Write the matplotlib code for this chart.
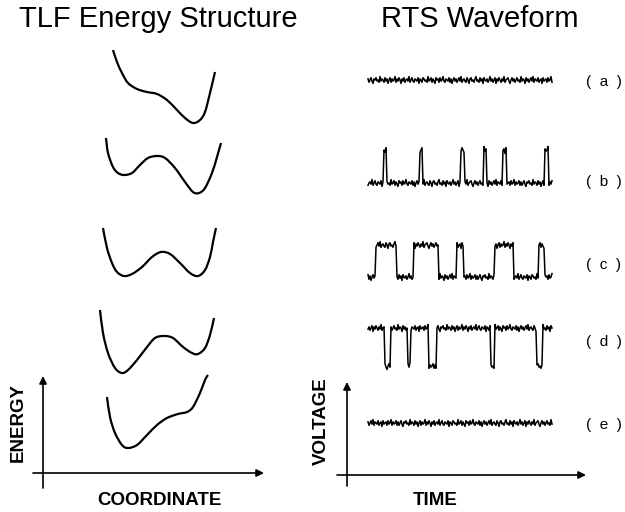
import matplotlib
matplotlib.use('Agg')
import matplotlib.pyplot as plt
from matplotlib.path import Path
from matplotlib.patches import PathPatch
import numpy as np

plt.rcParams['font.family'] = ['Liberation Sans', 'DejaVu Sans']

# ---------------- data ----------------
# TLF energy curves (coordinate, energy) for states a..e
coord_a = [18, 22, 27, 33, 42, 52, 62, 72, 82, 90, 98, 105, 110, 115, 120]
energy_a = [75, 63, 52, 42, 36, 33, 31, 25, 15, 7, 2, 5, 13, 32, 53]
coord_b = [11, 13, 18, 23, 29, 37, 45, 53, 62, 70, 80, 90, 98, 104, 110, 117, 122, 126]
energy_b = [57, 42, 28, 22, 20, 22, 30, 37, 39, 37, 27, 13, 3, 2, 7, 22, 38, 52]
coord_c = [8, 12, 17, 22, 29, 37, 47, 57, 66, 75, 85, 95, 103, 110, 115, 118, 121]
energy_c = [50, 30, 15, 6, 2, 4, 11, 21, 26, 24, 15, 5, 2, 8, 21, 36, 50]
coord_d = [5, 8, 13, 20, 27, 33, 42, 52, 60, 69, 78, 88, 97, 103, 110, 115, 119]
energy_d = [66, 43, 23, 8, 3, 6, 16, 29, 38, 40, 38, 29, 23, 22, 28, 41, 58]
coord_e = [12, 15, 20, 27, 33, 42, 52, 62, 72, 83, 92, 98, 105, 110, 113]
energy_e = [53, 33, 17, 5, 2, 5, 15, 25, 32, 36, 38, 43, 57, 70, 75]

# RTS waveforms: base level, switched level, switching intervals (time units)
rts_labels = ['( a )', '( b )', '( c )', '( d )', '( e )']
base_levels = [30, 17, 13, 52, 27]
alt_levels = [30, 50, 45, 14, 27]
intervals_a = []
intervals_b = [(16, 19), (52, 55), (93, 97), (116, 119), (135, 139), (177, 181)]
intervals_c = [(8, 29), (46, 71), (89, 96), (127, 146), (171, 177)]
intervals_d = [(17, 23), (40, 43), (61, 69), (123, 127), (169, 175)]
intervals_e = []
noise_shift = [0, 37, 81, 123, 160]

noise = [1, -2, 0, 2, -1, -3, 1, 0, 2, -1, 0, -2, 3, -1, 1, 0, -2, 2, -1, 1, -3, 0, 2, -2, 1, -1, 0, 3, -2, 1,
         -1, 2, 0, -3, 1, -1, 2, -2, 0, 1, -1, 3, -2, 0, 2, -1, -2, 1, 0, -1, 2, -3, 1, 0, -2, 2, 1, -1, 0, -2,
         3, -1, 0, 2, -2, 1, -1, -3, 2, 0, 1, -2, 2, -1, 0, 3, -1, -2, 1, 0, -1, 2, -2, 1, -3, 0, 2, -1, 1, -2,
         0, 2, -1, 3, -2, 0, 1, -1, -2, 2, 0, -3, 1, 2, -1, 0, -2, 1, 3, -1, 0, -2, 2, -1, 1, -3, 2, 0, -1, 1,
         -2, 0, 3, -1, 1, -2, 0, 2, -3, 1, -1, 2, 0, -2, 1, -1, 3, -2, 0, 1, 2, -1, -3, 0, 2, -1, 1, -2, 0, 2,
         -1, 0, -2, 3, -1, 1, 0, -3, 2, -1, 1, -2, 0, 2, -1, 3, -2, 1, 0, -1, 2, -2, 0, 1, -3, 2, -1, 0, 1, -2,
         2, -1, 0, 3, -2, 1, -1, 0, 2, -2]

# ---------------- figure ----------------
W, H = 625, 512
fig = plt.figure(figsize=(W / 100, H / 100), dpi=100)
fig.patch.set_facecolor('white')

overlay = fig.add_axes([0, 0, 1, 1])
overlay.set_xlim(0, W)
overlay.set_ylim(H, 0)
overlay.axis('off')


def panel(left, bottom, width, height):
    ax = fig.add_axes([left / W, (H - bottom) / H, width / W, height / H])
    ax.set_xlim(0, width)
    ax.set_ylim(0, height)
    ax.axis('off')
    return ax


def smooth_path(xs, ys):
    """Cubic Bezier path through the given points (Catmull-Rom tangents)."""
    p = np.column_stack([xs, ys]).astype(float)
    n = len(p)
    verts = [p[0]]
    codes = [Path.MOVETO]
    for i in range(n - 1):
        p0 = p[i - 1] if i > 0 else p[i]
        p1 = p[i]
        p2 = p[i + 1]
        p3 = p[i + 2] if i + 2 < n else p[i + 1]
        c1 = p1 + (p2 - p0) / 6.0
        c2 = p2 - (p3 - p1) / 6.0
        verts += [c1, c2, p2]
        codes += [Path.CURVE4] * 3
    return Path(verts, codes)


# energy curves
curves = [(coord_a, energy_a, 125), (coord_b, energy_b, 195), (coord_c, energy_c, 278),
          (coord_d, energy_d, 376), (coord_e, energy_e, 450)]
for cx, ey, bottom in curves:
    ax = panel(95, bottom, 130, 80)
    patch = PathPatch(smooth_path(cx, ey), facecolor='none', edgecolor='black',
                      lw=1.6, capstyle='butt', joinstyle='round', clip_on=False)
    ax.add_patch(patch)

# RTS traces
t = np.arange(185)
trace_bottoms = [110, 200, 290, 380, 450]
all_intervals = [intervals_a, intervals_b, intervals_c, intervals_d, intervals_e]
noise_arr = np.array(noise, dtype=float)
for i in range(5):
    ax = panel(368, trace_bottoms[i], 184, 60)
    level = np.full(t.shape, float(base_levels[i]))
    for s, e in all_intervals[i]:
        level[(t >= s) & (t < e)] = alt_levels[i]
    nz = np.roll(noise_arr, -noise_shift[i])[:len(t)]
    ax.plot(t, level + 1.15 * nz, color='black', lw=1.1, clip_on=False)

# labels for traces
label_y = [82, 182, 265, 342, 425]
for lab, y in zip(rts_labels, label_y):
    overlay.text(604, y, lab.replace(' ', '  '), ha='center', va='center', fontsize=11)

# titles
overlay.text(158, 27, 'TLF Energy Structure', ha='center', va='baseline', fontsize=21)
overlay.text(480, 27, 'RTS Waveform', ha='center', va='baseline', fontsize=21)

# axis arrows
arrow = dict(arrowstyle='-|>', color='black', lw=1.2, mutation_scale=11,
             shrinkA=0, shrinkB=0)
overlay.annotate('', xy=(43, 376), xytext=(43, 488), arrowprops=arrow)
overlay.annotate('', xy=(264, 473), xytext=(33, 473), arrowprops=arrow)
overlay.annotate('', xy=(586, 475), xytext=(337, 475), arrowprops=arrow)
overlay.annotate('', xy=(347, 382), xytext=(347, 486), arrowprops=arrow)

# axis titles
overlay.text(159, 505, 'COORDINATE', ha='center', va='baseline', fontsize=13.5, fontweight='bold')
overlay.text(435, 505, 'TIME', ha='center', va='baseline', fontsize=13.5, fontweight='bold')
overlay.text(18, 422, 'ENERGY', ha='center', va='center', rotation=90, fontsize=13.5, fontweight='bold')
overlay.text(321, 421, 'VOLTAGE', ha='center', va='center', rotation=90, fontsize=13.5, fontweight='bold')

fig.savefig('out.png', dpi=100, facecolor='white')
